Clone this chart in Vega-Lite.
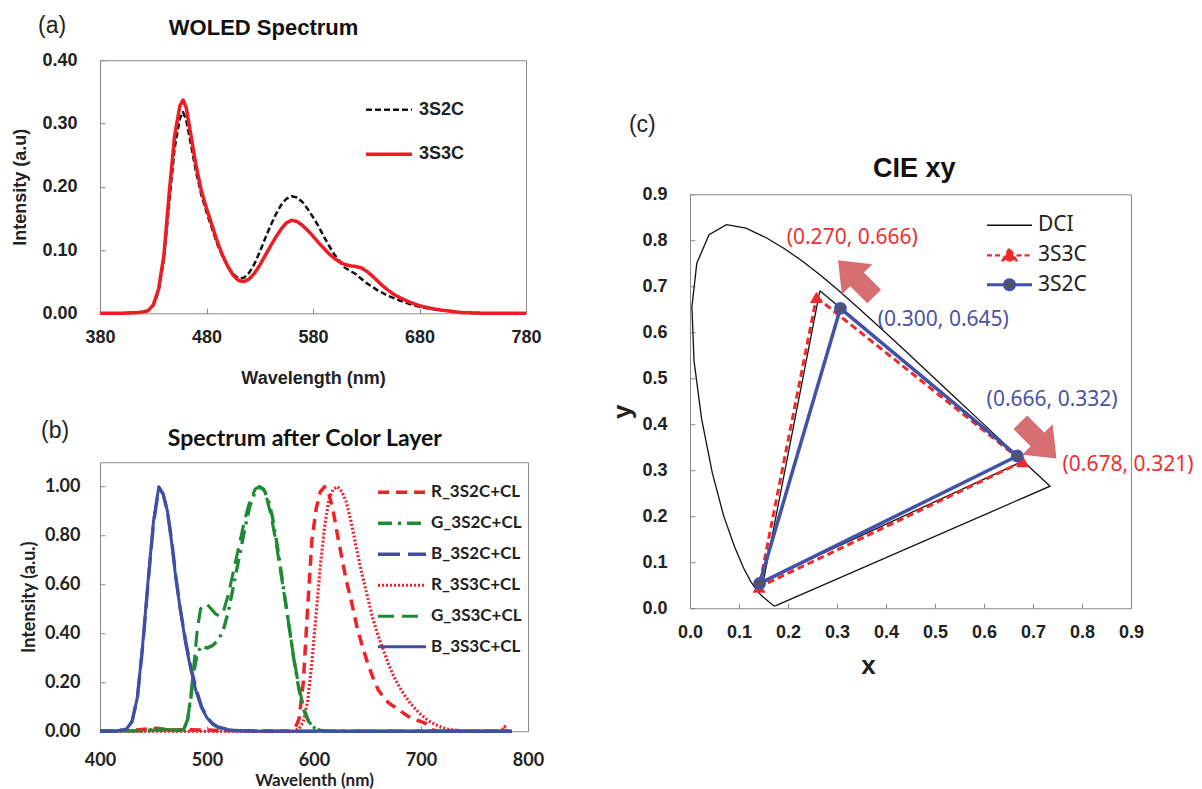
{
"$schema": "https://vega.github.io/schema/vega-lite/v6.json",
"background": "white",
"padding": {"left": 11, "top": 14, "right": 0, "bottom": 0},
"config": {
  "view": {"stroke": "#8a8a8a", "strokeWidth": 1},
  "axis": {"grid": false, "domain": false, "tickColor": "#8a8a8a", "tickSize": -5, "labelColor": "#222", "titleColor": "#222", "labelFlush": false, "labelOverlap": false}
},
"datasets": {
  "woled": [
    {"w":380,"i":0,"s":"3S2C"},{"w":400,"i":0,"s":"3S2C"},{"w":415,"i":0.001,"s":"3S2C"},{"w":420,"i":0.002,"s":"3S2C"},{"w":425,"i":0.004,"s":"3S2C"},{"w":430,"i":0.012,"s":"3S2C"},{"w":435,"i":0.035,"s":"3S2C"},{"w":440,"i":0.085,"s":"3S2C"},{"w":445,"i":0.175,"s":"3S2C"},{"w":450,"i":0.26,"s":"3S2C"},{"w":455,"i":0.308,"s":"3S2C"},{"w":458,"i":0.318,"s":"3S2C"},{"w":461,"i":0.305,"s":"3S2C"},{"w":465,"i":0.27,"s":"3S2C"},{"w":470,"i":0.225,"s":"3S2C"},{"w":475,"i":0.188,"s":"3S2C"},{"w":480,"i":0.16,"s":"3S2C"},{"w":485,"i":0.135,"s":"3S2C"},{"w":490,"i":0.11,"s":"3S2C"},{"w":495,"i":0.09,"s":"3S2C"},{"w":500,"i":0.074,"s":"3S2C"},{"w":505,"i":0.062,"s":"3S2C"},{"w":510,"i":0.055,"s":"3S2C"},{"w":515,"i":0.056,"s":"3S2C"},{"w":520,"i":0.064,"s":"3S2C"},{"w":525,"i":0.078,"s":"3S2C"},{"w":530,"i":0.097,"s":"3S2C"},{"w":535,"i":0.118,"s":"3S2C"},{"w":540,"i":0.138,"s":"3S2C"},{"w":545,"i":0.156,"s":"3S2C"},{"w":550,"i":0.171,"s":"3S2C"},{"w":555,"i":0.181,"s":"3S2C"},{"w":560,"i":0.185,"s":"3S2C"},{"w":565,"i":0.183,"s":"3S2C"},{"w":570,"i":0.176,"s":"3S2C"},{"w":575,"i":0.165,"s":"3S2C"},{"w":580,"i":0.152,"s":"3S2C"},{"w":585,"i":0.138,"s":"3S2C"},{"w":590,"i":0.122,"s":"3S2C"},{"w":595,"i":0.107,"s":"3S2C"},{"w":600,"i":0.093,"s":"3S2C"},{"w":605,"i":0.082,"s":"3S2C"},{"w":610,"i":0.072,"s":"3S2C"},{"w":615,"i":0.067,"s":"3S2C"},{"w":620,"i":0.062,"s":"3S2C"},{"w":625,"i":0.055,"s":"3S2C"},{"w":630,"i":0.048,"s":"3S2C"},{"w":640,"i":0.037,"s":"3S2C"},{"w":650,"i":0.028,"s":"3S2C"},{"w":660,"i":0.021,"s":"3S2C"},{"w":670,"i":0.015,"s":"3S2C"},{"w":680,"i":0.01,"s":"3S2C"},{"w":690,"i":0.007,"s":"3S2C"},{"w":700,"i":0.005,"s":"3S2C"},{"w":710,"i":0.003,"s":"3S2C"},{"w":720,"i":0.0015,"s":"3S2C"},{"w":730,"i":0.0005,"s":"3S2C"},{"w":740,"i":0,"s":"3S2C"},{"w":780,"i":0,"s":"3S2C"},
    {"w":380,"i":0,"s":"3S3C"},{"w":400,"i":0,"s":"3S3C"},{"w":415,"i":0.001,"s":"3S3C"},{"w":420,"i":0.002,"s":"3S3C"},{"w":425,"i":0.004,"s":"3S3C"},{"w":430,"i":0.013,"s":"3S3C"},{"w":435,"i":0.038,"s":"3S3C"},{"w":440,"i":0.092,"s":"3S3C"},{"w":445,"i":0.19,"s":"3S3C"},{"w":450,"i":0.28,"s":"3S3C"},{"w":455,"i":0.328,"s":"3S3C"},{"w":458,"i":0.337,"s":"3S3C"},{"w":461,"i":0.325,"s":"3S3C"},{"w":465,"i":0.285,"s":"3S3C"},{"w":470,"i":0.235,"s":"3S3C"},{"w":475,"i":0.195,"s":"3S3C"},{"w":480,"i":0.166,"s":"3S3C"},{"w":485,"i":0.14,"s":"3S3C"},{"w":490,"i":0.114,"s":"3S3C"},{"w":495,"i":0.092,"s":"3S3C"},{"w":500,"i":0.074,"s":"3S3C"},{"w":505,"i":0.06,"s":"3S3C"},{"w":510,"i":0.052,"s":"3S3C"},{"w":515,"i":0.05,"s":"3S3C"},{"w":520,"i":0.054,"s":"3S3C"},{"w":525,"i":0.063,"s":"3S3C"},{"w":530,"i":0.076,"s":"3S3C"},{"w":535,"i":0.091,"s":"3S3C"},{"w":540,"i":0.106,"s":"3S3C"},{"w":545,"i":0.12,"s":"3S3C"},{"w":550,"i":0.133,"s":"3S3C"},{"w":555,"i":0.143,"s":"3S3C"},{"w":560,"i":0.147,"s":"3S3C"},{"w":565,"i":0.145,"s":"3S3C"},{"w":570,"i":0.139,"s":"3S3C"},{"w":575,"i":0.131,"s":"3S3C"},{"w":580,"i":0.122,"s":"3S3C"},{"w":585,"i":0.112,"s":"3S3C"},{"w":590,"i":0.103,"s":"3S3C"},{"w":595,"i":0.094,"s":"3S3C"},{"w":600,"i":0.087,"s":"3S3C"},{"w":605,"i":0.081,"s":"3S3C"},{"w":610,"i":0.077,"s":"3S3C"},{"w":615,"i":0.075,"s":"3S3C"},{"w":620,"i":0.074,"s":"3S3C"},{"w":625,"i":0.072,"s":"3S3C"},{"w":630,"i":0.067,"s":"3S3C"},{"w":635,"i":0.06,"s":"3S3C"},{"w":640,"i":0.052,"s":"3S3C"},{"w":645,"i":0.044,"s":"3S3C"},{"w":650,"i":0.037,"s":"3S3C"},{"w":655,"i":0.031,"s":"3S3C"},{"w":660,"i":0.026,"s":"3S3C"},{"w":670,"i":0.018,"s":"3S3C"},{"w":680,"i":0.012,"s":"3S3C"},{"w":690,"i":0.008,"s":"3S3C"},{"w":700,"i":0.005,"s":"3S3C"},{"w":710,"i":0.003,"s":"3S3C"},{"w":720,"i":0.001,"s":"3S3C"},{"w":740,"i":0,"s":"3S3C"},{"w":780,"i":0,"s":"3S3C"}
  ],
  "cl": [
    {"w":400,"i":0,"s":"R_3S2C+CL"},{"w":430,"i":0.003,"s":"R_3S2C+CL"},{"w":445,"i":0.01,"s":"R_3S2C+CL"},{"w":452,"i":0.012,"s":"R_3S2C+CL"},{"w":460,"i":0.008,"s":"R_3S2C+CL"},{"w":470,"i":0.005,"s":"R_3S2C+CL"},{"w":480,"i":0.006,"s":"R_3S2C+CL"},{"w":500,"i":0.005,"s":"R_3S2C+CL"},{"w":510,"i":0.003,"s":"R_3S2C+CL"},{"w":530,"i":0.002,"s":"R_3S2C+CL"},{"w":560,"i":0.001,"s":"R_3S2C+CL"},{"w":578,"i":0,"s":"R_3S2C+CL"},{"w":582,"i":0.01,"s":"R_3S2C+CL"},{"w":586,"i":0.05,"s":"R_3S2C+CL"},{"w":590,"i":0.2,"s":"R_3S2C+CL"},{"w":594,"i":0.5,"s":"R_3S2C+CL"},{"w":598,"i":0.78,"s":"R_3S2C+CL"},{"w":602,"i":0.91,"s":"R_3S2C+CL"},{"w":606,"i":0.98,"s":"R_3S2C+CL"},{"w":610,"i":1.0,"s":"R_3S2C+CL"},{"w":614,"i":0.97,"s":"R_3S2C+CL"},{"w":618,"i":0.9,"s":"R_3S2C+CL"},{"w":622,"i":0.8,"s":"R_3S2C+CL"},{"w":626,"i":0.71,"s":"R_3S2C+CL"},{"w":630,"i":0.62,"s":"R_3S2C+CL"},{"w":635,"i":0.53,"s":"R_3S2C+CL"},{"w":640,"i":0.43,"s":"R_3S2C+CL"},{"w":645,"i":0.35,"s":"R_3S2C+CL"},{"w":650,"i":0.28,"s":"R_3S2C+CL"},{"w":655,"i":0.22,"s":"R_3S2C+CL"},{"w":660,"i":0.17,"s":"R_3S2C+CL"},{"w":665,"i":0.14,"s":"R_3S2C+CL"},{"w":670,"i":0.115,"s":"R_3S2C+CL"},{"w":675,"i":0.1,"s":"R_3S2C+CL"},{"w":680,"i":0.085,"s":"R_3S2C+CL"},{"w":685,"i":0.07,"s":"R_3S2C+CL"},{"w":690,"i":0.056,"s":"R_3S2C+CL"},{"w":695,"i":0.047,"s":"R_3S2C+CL"},{"w":700,"i":0.04,"s":"R_3S2C+CL"},{"w":705,"i":0.03,"s":"R_3S2C+CL"},{"w":708,"i":0.02,"s":"R_3S2C+CL"},{"w":711,"i":0.005,"s":"R_3S2C+CL"},{"w":715,"i":0,"s":"R_3S2C+CL"},{"w":780,"i":0,"s":"R_3S2C+CL"},
    {"w":400,"i":0,"s":"G_3S2C+CL"},{"w":440,"i":0.002,"s":"G_3S2C+CL"},{"w":450,"i":0.006,"s":"G_3S2C+CL"},{"w":460,"i":0.007,"s":"G_3S2C+CL"},{"w":470,"i":0.004,"s":"G_3S2C+CL"},{"w":478,"i":0.004,"s":"G_3S2C+CL"},{"w":482,"i":0.05,"s":"G_3S2C+CL"},{"w":485,"i":0.14,"s":"G_3S2C+CL"},{"w":488,"i":0.25,"s":"G_3S2C+CL"},{"w":491,"i":0.32,"s":"G_3S2C+CL"},{"w":495,"i":0.35,"s":"G_3S2C+CL"},{"w":500,"i":0.34,"s":"G_3S2C+CL"},{"w":505,"i":0.35,"s":"G_3S2C+CL"},{"w":510,"i":0.37,"s":"G_3S2C+CL"},{"w":515,"i":0.41,"s":"G_3S2C+CL"},{"w":520,"i":0.49,"s":"G_3S2C+CL"},{"w":525,"i":0.6,"s":"G_3S2C+CL"},{"w":530,"i":0.71,"s":"G_3S2C+CL"},{"w":535,"i":0.82,"s":"G_3S2C+CL"},{"w":540,"i":0.92,"s":"G_3S2C+CL"},{"w":545,"i":0.98,"s":"G_3S2C+CL"},{"w":549,"i":1.0,"s":"G_3S2C+CL"},{"w":553,"i":0.99,"s":"G_3S2C+CL"},{"w":557,"i":0.95,"s":"G_3S2C+CL"},{"w":561,"i":0.88,"s":"G_3S2C+CL"},{"w":566,"i":0.75,"s":"G_3S2C+CL"},{"w":571,"i":0.6,"s":"G_3S2C+CL"},{"w":576,"i":0.45,"s":"G_3S2C+CL"},{"w":581,"i":0.3,"s":"G_3S2C+CL"},{"w":586,"i":0.17,"s":"G_3S2C+CL"},{"w":591,"i":0.08,"s":"G_3S2C+CL"},{"w":596,"i":0.03,"s":"G_3S2C+CL"},{"w":601,"i":0.012,"s":"G_3S2C+CL"},{"w":606,"i":0.004,"s":"G_3S2C+CL"},{"w":612,"i":0,"s":"G_3S2C+CL"},{"w":780,"i":0,"s":"G_3S2C+CL"},
    {"w":400,"i":0,"s":"B_3S2C+CL"},{"w":415,"i":0,"s":"B_3S2C+CL"},{"w":425,"i":0.01,"s":"B_3S2C+CL"},{"w":430,"i":0.04,"s":"B_3S2C+CL"},{"w":435,"i":0.14,"s":"B_3S2C+CL"},{"w":440,"i":0.35,"s":"B_3S2C+CL"},{"w":445,"i":0.61,"s":"B_3S2C+CL"},{"w":450,"i":0.85,"s":"B_3S2C+CL"},{"w":455,"i":0.995,"s":"B_3S2C+CL"},{"w":459,"i":0.97,"s":"B_3S2C+CL"},{"w":463,"i":0.9,"s":"B_3S2C+CL"},{"w":467,"i":0.78,"s":"B_3S2C+CL"},{"w":471,"i":0.63,"s":"B_3S2C+CL"},{"w":475,"i":0.5,"s":"B_3S2C+CL"},{"w":480,"i":0.37,"s":"B_3S2C+CL"},{"w":485,"i":0.26,"s":"B_3S2C+CL"},{"w":490,"i":0.17,"s":"B_3S2C+CL"},{"w":495,"i":0.1,"s":"B_3S2C+CL"},{"w":500,"i":0.058,"s":"B_3S2C+CL"},{"w":505,"i":0.032,"s":"B_3S2C+CL"},{"w":510,"i":0.018,"s":"B_3S2C+CL"},{"w":520,"i":0.006,"s":"B_3S2C+CL"},{"w":530,"i":0.002,"s":"B_3S2C+CL"},{"w":550,"i":0,"s":"B_3S2C+CL"},{"w":785,"i":0,"s":"B_3S2C+CL"},
    {"w":400,"i":0,"s":"R_3S3C+CL"},{"w":580,"i":0,"s":"R_3S3C+CL"},{"w":586,"i":0.01,"s":"R_3S3C+CL"},{"w":590,"i":0.04,"s":"R_3S3C+CL"},{"w":594,"i":0.12,"s":"R_3S3C+CL"},{"w":598,"i":0.28,"s":"R_3S3C+CL"},{"w":602,"i":0.48,"s":"R_3S3C+CL"},{"w":606,"i":0.68,"s":"R_3S3C+CL"},{"w":610,"i":0.84,"s":"R_3S3C+CL"},{"w":614,"i":0.95,"s":"R_3S3C+CL"},{"w":618,"i":0.99,"s":"R_3S3C+CL"},{"w":622,"i":1.0,"s":"R_3S3C+CL"},{"w":626,"i":0.98,"s":"R_3S3C+CL"},{"w":630,"i":0.94,"s":"R_3S3C+CL"},{"w":635,"i":0.85,"s":"R_3S3C+CL"},{"w":640,"i":0.74,"s":"R_3S3C+CL"},{"w":645,"i":0.64,"s":"R_3S3C+CL"},{"w":650,"i":0.55,"s":"R_3S3C+CL"},{"w":655,"i":0.46,"s":"R_3S3C+CL"},{"w":660,"i":0.39,"s":"R_3S3C+CL"},{"w":665,"i":0.33,"s":"R_3S3C+CL"},{"w":670,"i":0.27,"s":"R_3S3C+CL"},{"w":675,"i":0.22,"s":"R_3S3C+CL"},{"w":680,"i":0.18,"s":"R_3S3C+CL"},{"w":685,"i":0.145,"s":"R_3S3C+CL"},{"w":690,"i":0.115,"s":"R_3S3C+CL"},{"w":695,"i":0.09,"s":"R_3S3C+CL"},{"w":700,"i":0.068,"s":"R_3S3C+CL"},{"w":705,"i":0.05,"s":"R_3S3C+CL"},{"w":710,"i":0.035,"s":"R_3S3C+CL"},{"w":715,"i":0.024,"s":"R_3S3C+CL"},{"w":720,"i":0.015,"s":"R_3S3C+CL"},{"w":725,"i":0.009,"s":"R_3S3C+CL"},{"w":730,"i":0.005,"s":"R_3S3C+CL"},{"w":740,"i":0.001,"s":"R_3S3C+CL"},{"w":760,"i":0,"s":"R_3S3C+CL"},{"w":775,"i":0,"s":"R_3S3C+CL"},{"w":778,"i":0.02,"s":"R_3S3C+CL"},{"w":781,"i":0,"s":"R_3S3C+CL"},
    {"w":400,"i":0,"s":"G_3S3C+CL"},{"w":440,"i":0.002,"s":"G_3S3C+CL"},{"w":450,"i":0.005,"s":"G_3S3C+CL"},{"w":460,"i":0.006,"s":"G_3S3C+CL"},{"w":470,"i":0.005,"s":"G_3S3C+CL"},{"w":478,"i":0.005,"s":"G_3S3C+CL"},{"w":482,"i":0.05,"s":"G_3S3C+CL"},{"w":485,"i":0.15,"s":"G_3S3C+CL"},{"w":488,"i":0.28,"s":"G_3S3C+CL"},{"w":491,"i":0.42,"s":"G_3S3C+CL"},{"w":494,"i":0.5,"s":"G_3S3C+CL"},{"w":497,"i":0.52,"s":"G_3S3C+CL"},{"w":500,"i":0.52,"s":"G_3S3C+CL"},{"w":504,"i":0.5,"s":"G_3S3C+CL"},{"w":508,"i":0.48,"s":"G_3S3C+CL"},{"w":512,"i":0.47,"s":"G_3S3C+CL"},{"w":516,"i":0.5,"s":"G_3S3C+CL"},{"w":520,"i":0.56,"s":"G_3S3C+CL"},{"w":525,"i":0.66,"s":"G_3S3C+CL"},{"w":530,"i":0.76,"s":"G_3S3C+CL"},{"w":535,"i":0.86,"s":"G_3S3C+CL"},{"w":540,"i":0.94,"s":"G_3S3C+CL"},{"w":545,"i":0.99,"s":"G_3S3C+CL"},{"w":549,"i":1.0,"s":"G_3S3C+CL"},{"w":552,"i":0.99,"s":"G_3S3C+CL"},{"w":556,"i":0.95,"s":"G_3S3C+CL"},{"w":560,"i":0.88,"s":"G_3S3C+CL"},{"w":565,"i":0.76,"s":"G_3S3C+CL"},{"w":570,"i":0.62,"s":"G_3S3C+CL"},{"w":575,"i":0.48,"s":"G_3S3C+CL"},{"w":580,"i":0.33,"s":"G_3S3C+CL"},{"w":585,"i":0.2,"s":"G_3S3C+CL"},{"w":590,"i":0.1,"s":"G_3S3C+CL"},{"w":595,"i":0.04,"s":"G_3S3C+CL"},{"w":600,"i":0.015,"s":"G_3S3C+CL"},{"w":605,"i":0.005,"s":"G_3S3C+CL"},{"w":610,"i":0,"s":"G_3S3C+CL"},{"w":780,"i":0,"s":"G_3S3C+CL"},
    {"w":400,"i":0,"s":"B_3S3C+CL"},{"w":415,"i":0,"s":"B_3S3C+CL"},{"w":425,"i":0.01,"s":"B_3S3C+CL"},{"w":430,"i":0.04,"s":"B_3S3C+CL"},{"w":435,"i":0.14,"s":"B_3S3C+CL"},{"w":440,"i":0.36,"s":"B_3S3C+CL"},{"w":445,"i":0.62,"s":"B_3S3C+CL"},{"w":450,"i":0.86,"s":"B_3S3C+CL"},{"w":455,"i":1.0,"s":"B_3S3C+CL"},{"w":459,"i":0.97,"s":"B_3S3C+CL"},{"w":463,"i":0.9,"s":"B_3S3C+CL"},{"w":467,"i":0.77,"s":"B_3S3C+CL"},{"w":471,"i":0.62,"s":"B_3S3C+CL"},{"w":475,"i":0.5,"s":"B_3S3C+CL"},{"w":480,"i":0.36,"s":"B_3S3C+CL"},{"w":485,"i":0.25,"s":"B_3S3C+CL"},{"w":490,"i":0.16,"s":"B_3S3C+CL"},{"w":495,"i":0.095,"s":"B_3S3C+CL"},{"w":500,"i":0.055,"s":"B_3S3C+CL"},{"w":505,"i":0.03,"s":"B_3S3C+CL"},{"w":510,"i":0.017,"s":"B_3S3C+CL"},{"w":520,"i":0.006,"s":"B_3S3C+CL"},{"w":530,"i":0.002,"s":"B_3S3C+CL"},{"w":550,"i":0,"s":"B_3S3C+CL"},{"w":785,"i":0,"s":"B_3S3C+CL"}
  ],
  "locus": [
    {"o":1,"x":0.1741,"y":0.005},{"o":2,"x":0.1714,"y":0.0051},{"o":3,"x":0.1644,"y":0.0109},{"o":4,"x":0.1566,"y":0.0177},{"o":5,"x":0.151,"y":0.0227},{"o":6,"x":0.144,"y":0.0297},{"o":7,"x":0.1355,"y":0.0399},{"o":8,"x":0.1241,"y":0.0578},{"o":9,"x":0.1096,"y":0.0868},{"o":10,"x":0.0913,"y":0.1327},{"o":11,"x":0.0687,"y":0.2007},{"o":12,"x":0.0454,"y":0.295},{"o":13,"x":0.0235,"y":0.4127},{"o":14,"x":0.0082,"y":0.5384},{"o":15,"x":0.0039,"y":0.6548},{"o":16,"x":0.0139,"y":0.7502},{"o":17,"x":0.0389,"y":0.812},{"o":18,"x":0.0743,"y":0.8338},{"o":19,"x":0.1142,"y":0.8262},{"o":20,"x":0.1547,"y":0.8059},{"o":21,"x":0.1929,"y":0.7816},{"o":22,"x":0.2296,"y":0.7543},{"o":23,"x":0.2658,"y":0.7243},{"o":24,"x":0.3016,"y":0.6923},{"o":25,"x":0.3373,"y":0.6589},{"o":26,"x":0.3731,"y":0.6245},{"o":27,"x":0.4087,"y":0.5896},{"o":28,"x":0.4441,"y":0.5547},{"o":29,"x":0.4788,"y":0.5202},{"o":30,"x":0.5125,"y":0.4866},{"o":31,"x":0.5448,"y":0.4544},{"o":32,"x":0.5752,"y":0.4242},{"o":33,"x":0.6029,"y":0.3965},{"o":34,"x":0.627,"y":0.3725},{"o":35,"x":0.6482,"y":0.3514},{"o":36,"x":0.6658,"y":0.334},{"o":37,"x":0.6915,"y":0.3083},{"o":38,"x":0.7079,"y":0.292},{"o":39,"x":0.719,"y":0.2809},{"o":40,"x":0.73,"y":0.27},{"o":41,"x":0.7347,"y":0.2653},{"o":42,"x":0.1741,"y":0.005}
  ],
  "gamut": [
    {"s":"DCI","o":1,"x":0.265,"y":0.69},{"s":"DCI","o":2,"x":0.68,"y":0.32},{"s":"DCI","o":3,"x":0.15,"y":0.06},{"s":"DCI","o":4,"x":0.265,"y":0.69},
    {"s":"3S3C","o":1,"x":0.258,"y":0.676},{"s":"3S3C","o":2,"x":0.679,"y":0.319},{"s":"3S3C","o":3,"x":0.141,"y":0.046},{"s":"3S3C","o":4,"x":0.258,"y":0.676},
    {"s":"3S2C","o":1,"x":0.307,"y":0.652},{"s":"3S2C","o":2,"x":0.668,"y":0.331},{"s":"3S2C","o":3,"x":0.142,"y":0.054},{"s":"3S2C","o":4,"x":0.307,"y":0.652}
  ],
  "redLabels": [{"x":0.331,"y":0.804,"t":"(0.270, 0.666)"},{"x":0.894,"y":0.311,"t":"(0.678, 0.321)"}],
  "blueLabels": [{"x":0.517,"y":0.626,"t":"(0.300, 0.645)"},{"x":0.739,"y":0.452,"t":"(0.666, 0.332)"}]
},
"resolve": {"scale": {"color": "independent", "strokeDash": "independent", "strokeWidth": "independent", "shape": "independent", "fill": "independent", "stroke": "independent"}, "legend": {"color": "independent", "strokeDash": "independent", "strokeWidth": "independent", "shape": "independent", "fill": "independent", "stroke": "independent"}},
"spacing": 64,
"center": true,
"hconcat": [
  {
    "spacing": 31,
    "resolve": {"scale": {"color": "independent", "strokeDash": "independent", "strokeWidth": "independent"}, "legend": {"color": "independent", "strokeDash": "independent", "strokeWidth": "independent"}},
    "vconcat": [
      {
        "width": 426, "height": 253,
        "encoding": {
          "x": {"field": "w", "type": "quantitative", "scale": {"domain": [380, 780]}, "axis": {"values": [380, 480, 580, 680, 780], "labelFont": "Liberation Sans", "labelFontSize": 18, "labelFontWeight": "bold", "labelPadding": 20, "title": "Wavelength (nm)", "titleFont": "Liberation Sans", "titleFontSize": 18, "titleFontWeight": "bold", "titlePadding": 23}},
          "y": {"field": "i", "type": "quantitative", "scale": {"domain": [0, 0.4]}, "axis": {"values": [0, 0.1, 0.2, 0.3, 0.4], "format": ".2f", "labelFont": "Liberation Sans", "labelFontSize": 18, "labelFontWeight": "bold", "labelPadding": 28, "title": "Intensity (a.u)", "titleFont": "Liberation Sans", "titleFontSize": 18, "titleFontWeight": "bold", "titlePadding": 12}}
        },
        "layer": [
          {
            "data": {"name": "woled"},
            "mark": {"type": "line", "strokeJoin": "round"},
            "encoding": {
              "color": {"field": "s", "type": "nominal", "scale": {"domain": ["3S2C", "3S3C"], "range": ["#111111", "#ee1d23"]}, "legend": {"title": null, "orient": "none", "legendX": 264, "legendY": 25, "symbolType": "stroke", "symbolSize": 2116, "labelFont": "Liberation Sans", "labelFontSize": 18, "labelFontWeight": "bold", "labelColor": "#222", "rowPadding": 10, "labelOffset": 5}},
              "strokeDash": {"field": "s", "type": "nominal", "scale": {"domain": ["3S2C", "3S3C"], "range": [[6, 3], [1, 0]]}, "legend": {"title": null, "orient": "none", "legendX": 264, "legendY": 25, "symbolType": "stroke", "symbolSize": 2116, "labelFont": "Liberation Sans", "labelFontSize": 18, "labelFontWeight": "bold", "labelColor": "#222", "rowPadding": 10, "labelOffset": 5}},
              "strokeWidth": {"field": "s", "type": "nominal", "scale": {"domain": ["3S2C", "3S3C"], "range": [2.5, 3.5]}, "legend": {"title": null, "orient": "none", "legendX": 264, "legendY": 25, "symbolType": "stroke", "symbolSize": 2116, "labelFont": "Liberation Sans", "labelFontSize": 18, "labelFontWeight": "bold", "labelColor": "#222", "rowPadding": 10, "labelOffset": 5}}
            }
          },
          {
            "data": {"values": [{"w": 335, "i": 0.4537, "lab": "(a)"}]},
            "mark": {"type": "text", "font": "Liberation Sans", "fontSize": 23, "color": "#222"},
            "encoding": {"text": {"field": "lab", "type": "nominal"}}
          },
          {
            "data": {"values": [{"w": 533.6, "i": 0.4506, "lab": "WOLED Spectrum"}]},
            "mark": {"type": "text", "font": "Liberation Sans", "fontSize": 22, "fontWeight": "bold", "color": "#111"},
            "encoding": {"text": {"field": "lab", "type": "nominal"}}
          }
        ]
      },
      {
        "width": 428, "height": 269,
        "encoding": {
          "x": {"field": "w", "type": "quantitative", "scale": {"domain": [400, 800]}, "axis": {"values": [400, 500, 600, 700, 800], "labelFont": "Lato", "labelFontSize": 18, "labelFontWeight": "bold", "labelPadding": 25, "title": ["Wavelenth (nm)", ""], "titleLineHeight": 24, "titleFont": "Lato", "titleFontSize": 17, "titleFontWeight": "bold", "titlePadding": 3}},
          "y": {"field": "i", "type": "quantitative", "scale": {"domain": [0, 1.1]}, "axis": {"values": [0, 0.2, 0.4, 0.6, 0.8, 1.0], "format": ".2f", "labelFont": "Lato", "labelFontSize": 18, "labelFontWeight": "bold", "labelPadding": 25, "title": "Intensity (a.u.)", "titleFont": "Lato", "titleFontSize": 18, "titleFontWeight": "bold", "titlePadding": 6}}
        },
        "layer": [
          {
            "data": {"name": "cl"},
            "mark": {"type": "line", "strokeJoin": "round"},
            "encoding": {
              "color": {"field": "s", "type": "nominal", "scale": {"domain": ["R_3S2C+CL", "G_3S2C+CL", "B_3S2C+CL", "R_3S3C+CL", "G_3S3C+CL", "B_3S3C+CL"], "range": ["#ee2228", "#1f8a34", "#3f4fa6", "#ee2228", "#1f8a34", "#3f4fa6"]}, "legend": {"title": null, "orient": "none", "legendX": 290, "legendY": 18, "symbolType": "M-2.4,0L2.4,0", "symbolSize": 400, "labelFont": "Lato", "labelFontSize": 17, "labelFontWeight": "bold", "labelColor": "#222", "rowPadding": 11, "labelOffset": 17}},
              "strokeDash": {"field": "s", "type": "nominal", "scale": {"domain": ["R_3S2C+CL", "G_3S2C+CL", "B_3S2C+CL", "R_3S3C+CL", "G_3S3C+CL", "B_3S3C+CL"], "range": [[11, 7], [14, 6, 3, 6], [22, 8], [2, 2], [16, 8], [1, 0]]}, "legend": {"title": null, "orient": "none", "legendX": 290, "legendY": 18, "symbolType": "M-2.4,0L2.4,0", "symbolSize": 400, "labelFont": "Lato", "labelFontSize": 17, "labelFontWeight": "bold", "labelColor": "#222", "rowPadding": 11, "labelOffset": 17}},
              "strokeWidth": {"field": "s", "type": "nominal", "scale": {"domain": ["R_3S2C+CL", "G_3S2C+CL", "B_3S2C+CL", "R_3S3C+CL", "G_3S3C+CL", "B_3S3C+CL"], "range": [3.5, 3, 3.5, 2, 3, 3]}, "legend": {"title": null, "orient": "none", "legendX": 290, "legendY": 18, "symbolType": "M-2.4,0L2.4,0", "symbolSize": 400, "labelFont": "Lato", "labelFontSize": 17, "labelFontWeight": "bold", "labelColor": "#222", "rowPadding": 11, "labelOffset": 17}}
            }
          },
          {
            "data": {"values": [{"w": 358, "i": 1.227, "lab": "(b)"}]},
            "mark": {"type": "text", "font": "Liberation Sans", "fontSize": 23, "color": "#222"},
            "encoding": {"text": {"field": "lab", "type": "nominal"}}
          },
          {
            "data": {"values": [{"w": 591.5, "i": 1.194, "lab": "Spectrum after Color Layer"}]},
            "mark": {"type": "text", "font": "Lato", "fontSize": 23, "fontWeight": "bold", "color": "#111"},
            "encoding": {"text": {"field": "lab", "type": "nominal"}}
          }
        ]
      }
    ]
  },
  {
    "width": 441, "height": 414,
    "encoding": {
      "x": {"field": "x", "type": "quantitative", "scale": {"domain": [0, 0.9]}, "axis": {"values": [0, 0.1, 0.2, 0.3, 0.4, 0.5, 0.6, 0.7, 0.8, 0.9], "format": ".1f", "labelFont": "Liberation Sans", "labelFontSize": 18, "labelFontWeight": "bold", "labelPadding": 20, "title": "x", "titleFont": "Liberation Sans", "titleFontSize": 26, "titleFontWeight": "bold", "titlePadding": 11, "titleX": 178}},
      "y": {"field": "y", "type": "quantitative", "scale": {"domain": [0, 0.9]}, "axis": {"values": [0, 0.1, 0.2, 0.3, 0.4, 0.5, 0.6, 0.7, 0.8, 0.9], "format": ".1f", "labelFont": "Liberation Sans", "labelFontSize": 18, "labelFontWeight": "bold", "labelPadding": 28, "title": "y", "titleFont": "Liberation Sans", "titleFontSize": 26, "titleFontWeight": "bold", "titlePadding": 6, "titleY": 217}}
    },
    "layer": [
      {
        "data": {"name": "locus"},
        "mark": {"type": "line", "stroke": "#111", "strokeWidth": 1.3},
        "encoding": {"order": {"field": "o", "type": "quantitative"}}
      },
      {
        "data": {"name": "gamut"},
        "transform": [{"filter": {"field": "s", "equal": "DCI"}}],
        "mark": {"type": "line", "stroke": "#111", "strokeWidth": 1.3},
        "encoding": {"order": {"field": "o", "type": "quantitative"}}
      },
      {
        "data": {"name": "gamut"},
        "transform": [{"filter": {"field": "s", "equal": "3S3C"}}],
        "mark": {"type": "line", "stroke": "#ee2a2a", "strokeWidth": 3, "strokeDash": [7, 4]},
        "encoding": {"order": {"field": "o", "type": "quantitative"}}
      },
      {
        "data": {"name": "gamut"},
        "transform": [{"filter": {"field": "s", "equal": "3S2C"}}],
        "mark": {"type": "line", "stroke": "#4152a8", "strokeWidth": 3.5},
        "encoding": {"order": {"field": "o", "type": "quantitative"}}
      },
      {
        "data": {"name": "gamut"},
        "transform": [{"filter": {"field": "s", "equal": "3S3C"}}, {"filter": "datum.o < 4"}],
        "mark": {"type": "point", "shape": "triangle-up", "size": 170, "filled": true, "color": "#ee2a2a", "opacity": 1}
      },
      {
        "data": {"name": "gamut"},
        "transform": [{"filter": {"field": "s", "equal": "3S2C"}}, {"filter": "datum.o < 4"}],
        "mark": {"type": "point", "shape": "circle", "size": 95, "fill": "#555555", "stroke": "#4152a8", "strokeWidth": 3, "opacity": 1}
      },
      {
        "data": {"values": [{"x": 0.339, "y": 0.717}]},
        "mark": {"type": "point", "shape": "M-0.36,0.95L-0.36,0.05L-0.8,0.05L0,-0.95L0.8,0.05L0.36,0.05L0.36,0.95Z", "size": 2900, "filled": true, "color": "#d5676a", "opacity": 0.95, "angle": -45}
      },
      {
        "data": {"values": [{"x": 0.711, "y": 0.365}]},
        "mark": {"type": "point", "shape": "M-0.36,0.95L-0.36,0.05L-0.8,0.05L0,-0.95L0.8,0.05L0.36,0.05L0.36,0.95Z", "size": 2900, "filled": true, "color": "#d5676a", "opacity": 0.95, "angle": 135}
      },
      {
        "data": {"name": "redLabels"},
        "mark": {"type": "text", "font": "Noto Sans", "fontSize": 21, "color": "#ee3030"},
        "encoding": {"text": {"field": "t", "type": "nominal"}}
      },
      {
        "data": {"name": "blueLabels"},
        "mark": {"type": "text", "font": "Noto Sans", "fontSize": 21, "color": "#4a52a6"},
        "encoding": {"text": {"field": "t", "type": "nominal"}}
      },
      {
        "data": {"values": [{"x": -0.0973, "y": 1.05, "lab": "(c)"}]},
        "mark": {"type": "text", "font": "Liberation Sans", "fontSize": 23, "color": "#222"},
        "encoding": {"text": {"field": "lab", "type": "nominal"}}
      },
      {
        "data": {"values": [{"x": 0.4578, "y": 0.954, "lab": "CIE xy"}]},
        "mark": {"type": "text", "font": "Liberation Sans", "fontSize": 27, "fontWeight": "bold", "color": "#111"},
        "encoding": {"text": {"field": "lab", "type": "nominal"}}
      },
      {
        "data": {"values": []},
        "mark": {"type": "point", "opacity": 1},
        "encoding": {
          "shape": {"field": "s", "type": "nominal", "scale": {"domain": ["DCI", "3S3C", "3S2C"], "range": ["M-2.25,0L2.25,0", "M-2.25,0L-0.7,0M0.7,0L2.25,0M-0.68,0.5L0,-0.72L0.68,0.5Z", "M-2.25,0L-0.55,0M0.55,0L2.25,0M-0.5,0A0.5,0.5,0,1,0,0.5,0A0.5,0.5,0,1,0,-0.5,0Z"]}, "legend": {"title": null, "orient": "none", "legendX": 308, "legendY": 20, "symbolSize": 400, "labelFont": "Noto Sans", "labelFontSize": 21, "labelColor": "#222", "rowPadding": 7.5, "labelOffset": 17}},
          "fill": {"field": "s", "type": "nominal", "scale": {"domain": ["DCI", "3S3C", "3S2C"], "range": ["#111111", "#ee2a2a", "#555555"]}, "legend": {"title": null, "orient": "none", "legendX": 308, "legendY": 20, "symbolSize": 400, "labelFont": "Noto Sans", "labelFontSize": 21, "labelColor": "#222", "rowPadding": 7.5, "labelOffset": 17}},
          "stroke": {"field": "s", "type": "nominal", "scale": {"domain": ["DCI", "3S3C", "3S2C"], "range": ["#111111", "#ee2a2a", "#4152a8"]}, "legend": {"title": null, "orient": "none", "legendX": 308, "legendY": 20, "symbolSize": 400, "labelFont": "Noto Sans", "labelFontSize": 21, "labelColor": "#222", "rowPadding": 7.5, "labelOffset": 17}},
          "strokeDash": {"field": "s", "type": "nominal", "scale": {"domain": ["DCI", "3S3C", "3S2C"], "range": [[1, 0], [5, 3], [1, 0]]}, "legend": {"title": null, "orient": "none", "legendX": 308, "legendY": 20, "symbolSize": 400, "labelFont": "Noto Sans", "labelFontSize": 21, "labelColor": "#222", "rowPadding": 7.5, "labelOffset": 17}},
          "strokeWidth": {"field": "s", "type": "nominal", "scale": {"domain": ["DCI", "3S3C", "3S2C"], "range": [1.5, 3, 3.5]}, "legend": {"title": null, "orient": "none", "legendX": 308, "legendY": 20, "symbolSize": 400, "labelFont": "Noto Sans", "labelFontSize": 21, "labelColor": "#222", "rowPadding": 7.5, "labelOffset": 17}}
        }
      }
    ]
  }
]
}
